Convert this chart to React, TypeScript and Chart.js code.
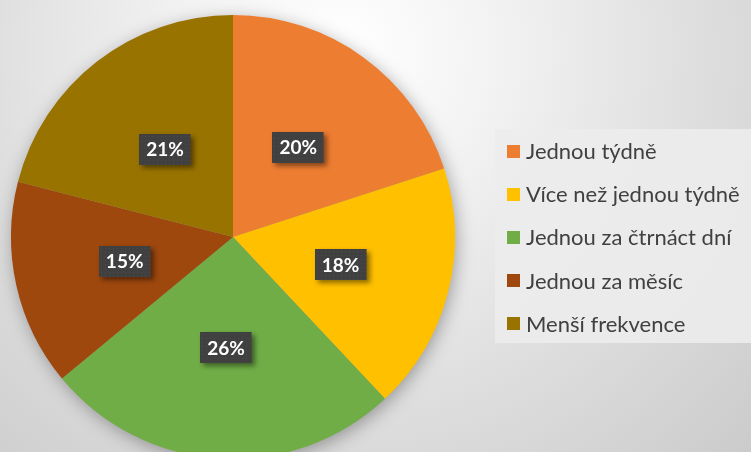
import React, { useEffect, useRef } from "react";
import { Chart, registerables } from "chart.js";

Chart.register(...registerables);

const categories = [
  "Jednou týdně",
  "Více než jednou týdně",
  "Jednou za čtrnáct dní",
  "Jednou za měsíc",
  "Menší frekvence",
];
const values = [20, 18, 26, 15, 21];
const colors = ["#ED7D31", "#FFC000", "#70AD47", "#9E480E", "#997300"];

const W = 751;
const H = 462;

export default function App() {
  const ref = useRef<HTMLCanvasElement | null>(null);

  useEffect(() => {
    const canvas = ref.current!;
    const bgPlugin = {
      id: "bg",
      beforeDraw(chart: any) {
        const ctx = chart.ctx;
        ctx.save();
        const g = ctx.createRadialGradient(340, 50, 0, 340, 50, 600);
        g.addColorStop(0, "#ffffff");
        g.addColorStop(0.25, "#f3f3f3");
        g.addColorStop(0.6, "#dedede");
        g.addColorStop(1, "#c9c9c9");
        ctx.fillStyle = g;
        ctx.fillRect(0, 0, chart.width, chart.height);
        ctx.restore();
      },
    };
    const shadowPlugin = {
      id: "pieShadow",
      beforeDatasetsDraw(chart: any) {
        const meta = chart.getDatasetMeta(0);
        const a = meta.data[0];
        if (!a) return;
        const ctx = chart.ctx;
        ctx.save();
        ctx.shadowColor = "rgba(0,0,0,0.35)";
        ctx.shadowBlur = 18;
        ctx.shadowOffsetX = 2;
        ctx.shadowOffsetY = 4;
        ctx.fillStyle = "#999";
        ctx.beginPath();
        ctx.arc(a.x, a.y, a.outerRadius - 1, 0, Math.PI * 2);
        ctx.fill();
        ctx.restore();
      },
    };
    const labelPlugin = {
      id: "pctLabels",
      afterDatasetsDraw(chart: any) {
        const ctx = chart.ctx;
        const meta = chart.getDatasetMeta(0);
        const total = values.reduce((s, v) => s + v, 0);
        meta.data.forEach((arc: any, i: number) => {
          const p = arc.tooltipPosition();
          const text = Math.round((values[i] / total) * 100) + "%";
          ctx.save();
          ctx.font = "bold 19px Lato, 'Open Sans', sans-serif";
          const tw = ctx.measureText(text).width;
          const bw = tw + 14;
          const bh = 31;
          const x = Math.round(p.x - bw / 2);
          const y = Math.round(p.y - bh / 2);
          ctx.shadowColor = "rgba(0,0,0,0.45)";
          ctx.shadowBlur = 5;
          ctx.shadowOffsetX = 3;
          ctx.shadowOffsetY = 3;
          ctx.fillStyle = "#404040";
          ctx.fillRect(x, y, bw, bh);
          ctx.shadowColor = "transparent";
          ctx.fillStyle = "rgba(255,255,255,0.06)";
          for (let yy = y + 2; yy < y + bh; yy += 4) {
            for (let xx = x + 2; xx < x + bw; xx += 4) {
              ctx.fillRect(xx, yy, 1, 1);
            }
          }
          ctx.fillStyle = "#ffffff";
          ctx.textAlign = "center";
          ctx.textBaseline = "middle";
          ctx.fillText(text, p.x, p.y + 1);
          ctx.restore();
        });
      },
    };
    const legendPlugin = {
      id: "customLegend",
      afterDraw(chart: any) {
        const ctx = chart.ctx;
        ctx.save();
        ctx.fillStyle = "rgba(236,236,236,0.9)";
        ctx.fillRect(495, 129, 256, 214);
        ctx.font = "22px Lato, 'Open Sans', sans-serif";
        ctx.textBaseline = "middle";
        ctx.textAlign = "left";
        categories.forEach((c, i) => {
          const cy = 151 + i * 43.2;
          ctx.fillStyle = colors[i];
          ctx.fillRect(507, Math.round(cy - 6.5), 13, 13);
          ctx.fillStyle = "#404040";
          ctx.fillText(c, 526, cy + 1);
        });
        ctx.restore();
      },
    };

    const chart = new Chart(canvas, {
      type: "pie",
      data: {
        labels: categories,
        datasets: [
          {
            data: values,
            backgroundColor: colors,
            borderWidth: 0,
          },
        ],
      },
      options: {
        responsive: false,
        animation: false,
        devicePixelRatio: 1,
        layout: { padding: { left: 11, top: 15, right: 296, bottom: 3 } },
        plugins: {
          legend: { display: false },
          tooltip: { enabled: false },
        },
      },
      plugins: [bgPlugin, shadowPlugin, labelPlugin, legendPlugin],
    });
    return () => chart.destroy();
  }, []);

  return (
    <div
      style={{
        position: "fixed",
        left: 0,
        top: 0,
        width: W,
        height: 452,
        overflow: "hidden",
      }}
    >
      <canvas ref={ref} width={W} height={H} style={{ display: "block" }} />
    </div>
  );
}
